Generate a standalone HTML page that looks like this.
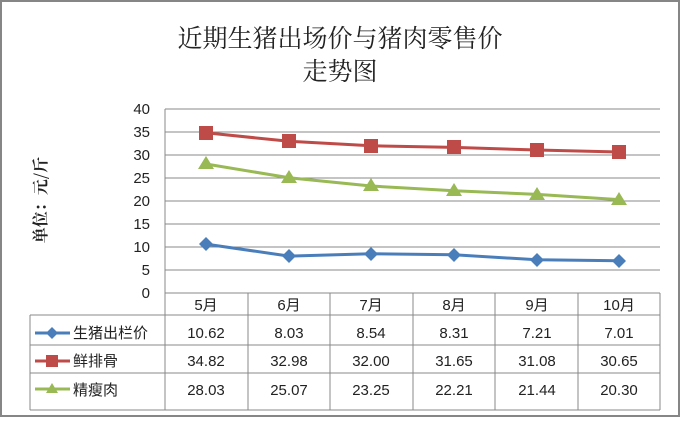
<!DOCTYPE html>
<html><head><meta charset="utf-8"><style>
body{margin:0;background:#fff}
svg text{font-family:"Liberation Sans","Noto Sans CJK SC",sans-serif;fill:#222}
</style></head><body>
<svg width="680" height="417" xmlns="http://www.w3.org/2000/svg">
<rect x="1" y="1" width="678" height="415" fill="#fff" stroke="#868686" stroke-width="2"/>
<text x="340" y="47" font-size="25" text-anchor="middle" style="font-family:'Noto Serif CJK SC',serif">近期生猪出场价与猪肉零售价</text>
<text x="340" y="80" font-size="25" text-anchor="middle" style="font-family:'Noto Serif CJK SC',serif">走势图</text>
<text transform="translate(46,200) rotate(-90)" font-size="16" font-weight="bold" text-anchor="middle" style="font-family:'Noto Serif CJK SC',serif">单位：元/斤</text>
<g stroke="#888" stroke-width="1">
<line x1="165" y1="109" x2="660" y2="109"/><line x1="165" y1="132" x2="660" y2="132"/>
<line x1="165" y1="155" x2="660" y2="155"/><line x1="165" y1="178" x2="660" y2="178"/>
<line x1="165" y1="201" x2="660" y2="201"/><line x1="165" y1="224" x2="660" y2="224"/>
<line x1="165" y1="247" x2="660" y2="247"/><line x1="165" y1="270" x2="660" y2="270"/>
<line x1="165" y1="109" x2="165" y2="410"/>
<line x1="165" y1="293" x2="660" y2="293"/>
<line x1="30" y1="315" x2="660" y2="315"/><line x1="30" y1="345" x2="660" y2="345"/>
<line x1="30" y1="373" x2="660" y2="373"/><line x1="30" y1="410" x2="660" y2="410"/>
<line x1="30" y1="315" x2="30" y2="410"/><line x1="660" y1="293" x2="660" y2="410"/>
<line x1="248" y1="293" x2="248" y2="410"/><line x1="330" y1="293" x2="330" y2="410"/>
<line x1="413" y1="293" x2="413" y2="410"/><line x1="495" y1="293" x2="495" y2="410"/>
<line x1="578" y1="293" x2="578" y2="410"/>
</g>
<g font-size="15" text-anchor="end">
<text x="150" y="114">40</text><text x="150" y="137">35</text><text x="150" y="160">30</text>
<text x="150" y="183">25</text><text x="150" y="206">20</text><text x="150" y="229">15</text>
<text x="150" y="252">10</text><text x="150" y="275">5</text><text x="150" y="298">0</text>
</g>
<g font-size="15" text-anchor="middle">
<text x="206" y="310">5月</text><text x="289" y="310">6月</text><text x="371" y="310">7月</text>
<text x="454" y="310">8月</text><text x="537" y="310">9月</text><text x="619" y="310">10月</text>
<text x="206" y="338">10.62</text><text x="289" y="338">8.03</text><text x="371" y="338">8.54</text>
<text x="454" y="338">8.31</text><text x="537" y="338">7.21</text><text x="619" y="338">7.01</text>
<text x="206" y="366">34.82</text><text x="289" y="366">32.98</text><text x="371" y="366">32.00</text>
<text x="454" y="366">31.65</text><text x="537" y="366">31.08</text><text x="619" y="366">30.65</text>
<text x="206" y="395">28.03</text><text x="289" y="395">25.07</text><text x="371" y="395">23.25</text>
<text x="454" y="395">22.21</text><text x="537" y="395">21.44</text><text x="619" y="395">20.30</text>
</g>
<g font-size="15">
<text x="73" y="338">生猪出栏价</text><text x="73" y="366">鲜排骨</text><text x="73" y="395">精瘦肉</text>
</g>
<line x1="35" y1="333" x2="70" y2="333" stroke="#4a7ebb" stroke-width="3"/>
<polygon points="52,327 58,333 52,339 46,333" fill="#4a7ebb"/>
<line x1="35" y1="361" x2="70" y2="361" stroke="#be4b48" stroke-width="3"/>
<rect x="46" y="355" width="12" height="12" fill="#be4b48"/>
<line x1="35" y1="389" x2="70" y2="389" stroke="#98b954" stroke-width="3"/>
<polygon points="52,383 58,393 46,393" fill="#98b954"/>
<polyline fill="none" stroke="#4a7ebb" stroke-width="3" points="206,244.1 289,256.1 371,253.7 454,254.8 537,259.8 619,260.8"/>
<g fill="#4a7ebb">
<polygon points="206,237 213,244 206,251 199,244"/><polygon points="289,249 296,256 289,263 282,256"/>
<polygon points="371,247 378,254 371,261 364,254"/><polygon points="454,248 461,255 454,262 447,255"/>
<polygon points="537,253 544,260 537,267 530,260"/><polygon points="619,254 626,261 619,268 612,261"/>
</g>
<polyline fill="none" stroke="#be4b48" stroke-width="3" points="206,132.8 289,141.3 371,145.8 454,147.4 537,150 619,152"/>
<g fill="#be4b48">
<rect x="199" y="126" width="14" height="14"/><rect x="282" y="134" width="14" height="14"/>
<rect x="364" y="139" width="14" height="14"/><rect x="447" y="140" width="14" height="14"/>
<rect x="530" y="143" width="14" height="14"/><rect x="612" y="145" width="14" height="14"/>
</g>
<polyline fill="none" stroke="#98b954" stroke-width="3" points="206,164 289,177.7 371,186 454,190.8 537,194.4 619,199.6"/>
<g fill="#98b954">
<polygon points="206,156 214,169 198,169"/><polygon points="289,170 297,183 281,183"/>
<polygon points="371,178 379,191 363,191"/><polygon points="454,183 462,196 446,196"/>
<polygon points="537,187 545,200 529,200"/><polygon points="619,192 627,205 611,205"/>
</g>
</svg>
</body></html>
